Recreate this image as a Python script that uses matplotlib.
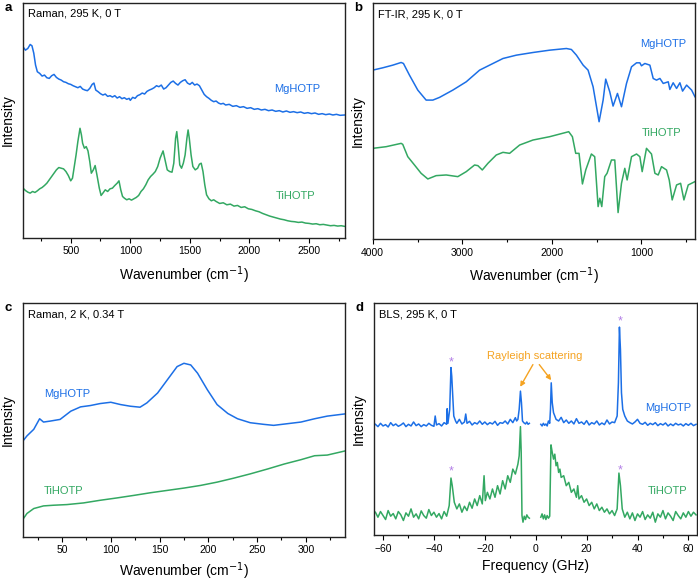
import matplotlib
matplotlib.use("Agg")
import matplotlib.pyplot as plt
from matplotlib.ticker import MultipleLocator, NullLocator

plt.rcParams["font.family"] = ["Liberation Sans", "DejaVu Sans"]

BLUE = "#1c6fe6"
GREEN = "#33a862"
PURPLE = "#b27fe6"
ORANGE = "#f5a321"

# ---- panel a: Raman 295 K (wavenumber, intensity in arb. units) ----
a_mg_x = [100, 120, 140, 160, 175, 190, 205, 220, 240, 260, 280, 300, 320, 340, 360, 380,
          400, 420, 440, 460, 480, 500, 520, 540, 560, 580, 600, 620, 640, 660, 680, 695,
          710, 730, 750, 770, 790, 810, 830, 850, 870, 890, 910, 930, 950, 970, 990, 1000,
          1020, 1040, 1060, 1080, 1100, 1120, 1140, 1160, 1180, 1200, 1220, 1240, 1260,
          1280, 1300, 1320, 1340, 1360, 1380, 1400, 1420, 1440, 1460, 1480, 1500, 1520,
          1540, 1560, 1580, 1600, 1620, 1640, 1660, 1680, 1700, 1720, 1740, 1760, 1780,
          1800, 1830, 1860, 1890, 1920, 1950, 1980, 2010, 2040, 2070, 2100, 2130, 2160,
          2190, 2220, 2250, 2280, 2310, 2340, 2370, 2400, 2430, 2460, 2490, 2520, 2550,
          2580, 2610, 2640, 2670, 2700, 2730, 2760, 2800]
a_mg_y = [575, 565, 570, 582, 578, 556, 520, 500, 495, 487, 490, 482, 480, 488, 492, 483,
          478, 475, 470, 468, 464, 462, 458, 455, 452, 456, 448, 445, 443, 450, 462, 466,
          445, 440, 434, 430, 433, 426, 428, 424, 428, 421, 425, 419, 422, 417, 420, 414,
          423, 420, 428, 431, 436, 433, 441, 445, 448, 452, 458, 455, 460,
          448, 452, 460, 468, 472, 465, 460, 468, 473, 476, 466, 462, 468,
          460, 463, 458, 445, 432, 425, 420, 414, 410, 412, 406, 403, 405,
          400, 402, 396, 398, 393, 395, 390, 392, 387, 389, 385, 387, 383,
          385, 381, 383, 379, 382, 378, 380, 377, 379, 375, 377, 374, 376,
          372, 374, 371, 373, 370, 372, 369, 370]
a_ti_x = [100, 120, 140, 160, 180, 200, 220, 240, 260, 280, 300, 320, 340, 360, 380, 400,
          420, 440, 460, 480, 500, 515, 530, 545, 560, 578, 590, 600, 615, 630, 645, 660,
          673, 690, 705, 720, 740, 755, 770, 790, 810, 830, 850, 870, 890, 905, 920, 935,
          950, 970, 990, 1010, 1030, 1050, 1070, 1090, 1110, 1130, 1150, 1170, 1190, 1210,
          1230, 1250, 1275, 1295, 1310, 1330, 1350, 1365, 1380, 1390, 1400, 1415, 1430,
          1445, 1460, 1475, 1485, 1495, 1510, 1525, 1545, 1565, 1580, 1595, 1610, 1625,
          1640, 1660, 1680, 1700, 1720, 1750, 1780, 1810, 1840, 1870, 1900, 1930, 1960,
          1990, 2020, 2050, 2080, 2110, 2140, 2170, 2200, 2230, 2260, 2290, 2320, 2350,
          2380, 2410, 2440, 2470, 2500, 2530, 2560, 2590, 2620, 2650, 2680, 2710, 2740,
          2770, 2800]
a_ti_y = [150, 143, 138, 135, 140, 137, 142, 148, 152, 158, 165, 175, 185, 195, 205, 212,
          210, 208, 200, 188, 172, 180, 215, 250, 290, 330, 310, 285, 270, 275, 262, 230,
          195, 205, 218, 190, 150, 128, 135, 145, 140, 148, 150, 158, 165, 172, 145, 125,
          120, 115, 118, 114, 118, 122, 128, 140, 148, 160, 175, 185, 192, 200,
          215, 240, 262, 230, 205, 200, 198, 225, 300, 320, 285, 220, 210,
          225, 250, 300, 325, 300, 250, 215, 205, 210, 222, 225, 200, 160,
          130, 118, 112, 115, 110, 104, 106, 100, 102, 96, 98, 92, 94,
          88, 86, 82, 79, 74, 70, 66, 63, 60, 57, 55, 52, 50,
          49, 47, 48, 45, 44, 42, 43, 40, 41, 39, 37, 38, 36,
          37, 35]

# ---- panel b: FT-IR ----
b_mg_x = [4000, 3888, 3776, 3683, 3657, 3590, 3497, 3404, 3329, 3255, 3106, 2956, 2807,
          2658, 2546, 2397, 2211, 2025, 1838, 1782, 1726, 1651, 1596, 1540, 1473, 1428,
          1399, 1354, 1317, 1268, 1223, 1167, 1111, 1055, 1018, 1000, 962, 906, 869,
          832, 794, 757, 701, 683, 646, 608, 571, 541, 496, 440, 403]
b_mg_y = [508, 515, 523, 531, 528, 493, 448, 418, 418, 426, 448, 473, 508,
          528, 543, 553, 561, 568, 573, 570, 553, 523, 508, 458, 353, 418,
          481, 443, 400, 438, 398, 468, 518, 530, 530, 521, 528, 523, 483,
          478, 483, 468, 473, 450, 470, 453, 470, 445, 463, 448, 428]
b_ti_x = [4000, 3850, 3683, 3665, 3609, 3534, 3460, 3385, 3292, 3180, 3050, 2956, 2863,
          2826, 2777, 2714, 2621, 2546, 2472, 2360, 2211, 2025, 1812, 1771, 1734, 1697,
          1659, 1622, 1559, 1522, 1484, 1465, 1443, 1410, 1384, 1335, 1298, 1261, 1223,
          1186, 1160, 1111, 1055, 1018, 992, 944, 888, 850, 813, 776, 720, 690, 657,
          608, 563, 526, 478, 403]
b_ti_y = [273, 278, 288, 285, 248, 223, 198, 181, 191, 193, 188, 203, 223,
          221, 208, 228, 253, 261, 258, 283, 298, 308, 323, 308, 258, 258,
          166, 208, 256, 248, 98, 123, 98, 188, 198, 238, 238, 80, 168,
          213, 178, 248, 256, 248, 203, 273, 256, 198, 193, 218, 208, 178, 118,
          163, 168, 118, 163, 173]

# ---- panel c: Raman 2 K, 0.34 T ----
c_mg_x = [10, 14, 21, 27, 31, 38, 48, 59, 69, 79, 89, 100, 110, 120, 130, 137, 148, 158,
          168, 175, 182, 189, 199, 209, 220, 230, 243, 257, 267, 281, 295, 309, 322, 341]
c_mg_y = [290, 305, 325, 357, 347, 350, 355, 380, 393, 397, 403, 407, 400, 395, 392, 405,
          435, 475, 515, 525, 520, 495, 445, 400, 373, 357, 345, 340, 337, 342, 347, 357,
          365, 372]
c_ti_x = [10, 14, 21, 31, 41, 55, 72, 89, 106, 124, 141, 158, 175, 192, 209, 226, 243,
          261, 278, 295, 309, 322, 341]
c_ti_y = [53, 70, 85, 93, 95, 97, 102, 110, 117, 125, 133, 140, 147, 155, 165, 177, 190,
          205, 220, 233, 245, 247, 260]

# ---- panel d: BLS (frequency in GHz), gap around the laser line ----
d_mg_lx = [-63, -62, -61, -60, -59, -58, -57, -56, -55, -54, -53, -52, -51, -50, -49, -48,
           -47, -46, -45, -44, -43, -42, -41, -40, -39.5, -39, -38, -37, -36, -35, -34.8,
           -34.5, -33.8, -33.3, -33, -32.6, -32.2, -31.5, -31, -30, -29, -28, -27.5, -27,
           -26, -25, -24, -23, -22, -21, -20, -19, -18, -17, -16, -15, -14, -13, -12, -11,
           -10, -9, -8, -7.5, -7, -6.5, -6, -5.6, -5.2, -4.7, -4, -3.5, -3, -2.5]
d_mg_ly = [335, 328, 338, 330, 334, 327, 340, 331, 336, 329, 333, 339, 328, 335, 330, 342,
           331, 336, 328, 334, 330, 338, 332, 329, 360, 333, 337, 330, 340, 335, 382,
           338, 380, 506, 480, 420, 360, 345, 338, 350, 336, 342, 366, 338,
           344, 333, 340, 336, 345, 335, 342, 334, 340, 336, 344, 332, 340, 338, 345, 336,
           350, 340, 355, 345, 350, 380, 435, 400, 345, 340, 336, 342, 335, 338]
d_mg_rx = [2, 2.5, 3, 3.5, 4, 4.5, 5, 5.5, 5.8, 6.1, 6.5, 7, 7.5, 8, 9, 10, 11, 12, 13, 14,
           15, 16, 17, 18, 19, 20, 21, 22, 23, 24, 25, 26, 27, 28, 29, 30, 31, 32, 32.5,
           32.9, 33.3, 33.7, 34.2, 35, 36, 37, 38, 39, 40, 41, 42, 43, 44, 45, 46, 47, 48,
           49, 50, 51, 52, 53, 54, 55, 56, 57, 58, 59, 60, 61, 62, 63]
d_mg_ry = [335, 330, 338, 332, 336, 330, 345, 338, 380, 460, 400, 370, 360, 350, 345, 356,
           340, 348, 338, 345, 336, 352, 338, 342, 335, 346, 333, 340, 336, 345, 333, 339,
           334, 348, 336, 342, 340, 360, 460, 628, 560, 430, 380, 360, 345, 340, 336, 342,
           350, 338, 335, 341, 332, 338, 334, 340, 331, 337, 333, 339, 330, 336, 331, 338,
           333, 336, 330, 337, 332, 338, 331, 335]
d_ti_lx = [-63, -62, -61, -60, -59, -58, -57, -56, -55, -54, -53, -52, -51, -50, -49, -48,
           -47, -46, -45, -44, -43, -42, -41, -40, -39, -38, -37, -36, -35, -34, -33.3,
           -32.8, -32, -31, -30, -29, -28, -27, -26, -25, -24, -23, -22, -21, -20.3, -19.8,
           -19, -18, -17, -16, -15, -14, -13, -12, -11, -10, -9, -8, -7, -6.5, -6, -5.7,
           -5.4, -5, -4.5, -4, -3.5, -3, -2.5]
d_ti_ly = [70, 55, 72, 60, 48, 75, 58, 66, 50, 72, 62, 45, 68, 58, 80, 55,
           65, 50, 74, 60, 52, 78, 60, 70, 55, 66, 50, 72, 58, 90, 173,
           150, 100, 80, 95, 70, 88, 75, 100, 82, 110, 90, 120, 95, 180, 105,
           130, 110, 140, 115, 150, 125, 165, 140, 180, 160, 200, 185, 215, 240, 328, 250,
           60, 40, 58, 48, 62, 55, 52]
d_ti_rx = [2, 2.5, 3, 3.5, 4, 4.5, 5, 5.5, 6, 6.5, 7, 7.5, 8, 8.5, 9, 9.5, 10, 11, 12, 13,
           14, 15, 16, 16.5, 17, 18, 19, 20, 21, 22, 23, 24, 25, 26, 27, 28, 29, 30, 31, 32,
           32.7, 33.3, 34, 35, 36, 37, 38, 39, 40, 41, 42, 43, 44, 45, 46, 47, 48, 49, 50,
           51, 52, 53, 54, 55, 56, 57, 58, 59, 60, 61, 62, 63]
d_ti_ry = [55, 65, 50, 62, 48, 60, 52, 58, 273, 250, 230, 245, 210, 220, 190, 200, 175,
           180, 150, 160, 130, 140, 115, 150, 110, 120, 100, 110, 90, 100, 80, 95, 75, 85,
           70, 80, 65, 75, 60, 80, 188, 150, 80, 55, 70, 50, 68, 45, 65, 55, 72, 48, 62,
           52, 70, 40, 65, 55, 75, 50, 68, 58, 45, 72, 60, 50, 68, 55, 72, 58, 70, 62]

fig = plt.figure(figsize=(6.98, 5.82), dpi=100)
ax_a = fig.add_axes([0.033, 0.591, 0.461, 0.404])
ax_b = fig.add_axes([0.534, 0.589, 0.462, 0.406])
ax_c = fig.add_axes([0.033, 0.078, 0.461, 0.401])
ax_d = fig.add_axes([0.536, 0.080, 0.463, 0.399])


def style(ax, title, letter, xlabel, xpad=6):
    ax.yaxis.set_major_locator(NullLocator())
    ax.tick_params(axis="x", which="major", direction="out", length=3.5, width=0.8,
                   labelsize=7.5, pad=2.5, top=False)
    ax.tick_params(axis="x", which="minor", direction="out", length=2, width=0.8, top=False)
    for s in ax.spines.values():
        s.set_linewidth(1.0)
        s.set_color("#222222")
    ax.set_ylabel("Intensity", fontsize=10, labelpad=6)
    ax.set_xlabel(xlabel, fontsize=10, labelpad=xpad)
    ax.text(0.016, 0.953, title, transform=ax.transAxes, ha="left", va="center", fontsize=8)
    ax.text(-0.034, 0.98, letter, transform=ax.transAxes, ha="right", va="center",
            fontsize=9.5, fontweight="bold")


wn_label = "Wavenumber (cm$^{-1}$)"
LW = 1.1

# a
ax_a.plot(a_mg_x, a_mg_y, color=BLUE, lw=LW)
ax_a.plot(a_ti_x, a_ti_y, color=GREEN, lw=LW)
ax_a.set_xlim(100, 2800)
ax_a.set_ylim(0, 707)
ax_a.xaxis.set_major_locator(MultipleLocator(500))
ax_a.xaxis.set_minor_locator(MultipleLocator(250))
ax_a.text(2400, 447, "MgHOTP", color=BLUE, ha="center", va="center", fontsize=8)
ax_a.text(2390, 125, "TiHOTP", color=GREEN, ha="center", va="center", fontsize=8)
style(ax_a, "Raman, 295 K, 0 T", "a", wn_label)

# b
ax_b.plot(b_mg_x, b_mg_y, color=BLUE, lw=LW)
ax_b.plot(b_ti_x, b_ti_y, color=GREEN, lw=LW)
ax_b.set_xlim(4000, 400)
ax_b.set_ylim(0, 710)
ax_b.xaxis.set_major_locator(MultipleLocator(1000))
ax_b.xaxis.set_minor_locator(MultipleLocator(500))
ax_b.text(757, 588, "MgHOTP", color=BLUE, ha="center", va="center", fontsize=8)
ax_b.text(776, 318, "TiHOTP", color=GREEN, ha="center", va="center", fontsize=8)
style(ax_b, "FT-IR, 295 K, 0 T", "b", wn_label)

# c
ax_c.plot(c_mg_x, c_mg_y, color=BLUE, lw=LW)
ax_c.plot(c_ti_x, c_ti_y, color=GREEN, lw=LW)
ax_c.set_xlim(10, 340)
ax_c.set_ylim(0, 707)
ax_c.xaxis.set_major_locator(MultipleLocator(50))
ax_c.xaxis.set_minor_locator(MultipleLocator(25))
ax_c.text(55, 433, "MgHOTP", color=BLUE, ha="center", va="center", fontsize=8)
ax_c.text(52, 138, "TiHOTP", color=GREEN, ha="center", va="center", fontsize=8)
style(ax_c, "Raman, 2 K, 0.34 T", "c", wn_label, xpad=4)

# d
ax_d.plot(d_mg_lx, d_mg_ly, color=BLUE, lw=LW)
ax_d.plot(d_mg_rx, d_mg_ry, color=BLUE, lw=LW)
ax_d.plot(d_ti_lx, d_ti_ly, color=GREEN, lw=LW)
ax_d.plot(d_ti_rx, d_ti_ry, color=GREEN, lw=LW)
ax_d.set_xlim(-63.5, 63.5)
ax_d.set_ylim(0, 700)
ax_d.xaxis.set_major_locator(MultipleLocator(20))
ax_d.xaxis.set_minor_locator(MultipleLocator(10))
for fx, fy in [(-33.3, 520), (33.0, 644), (-33.3, 194), (33.0, 197)]:
    ax_d.text(fx, fy, "*", color=PURPLE, ha="center", va="center", fontsize=9)
ax_d.text(-0.4, 541, "Rayleigh scattering", color=ORANGE, ha="center", va="center",
          fontsize=8)
arrow = dict(arrowstyle="-|>", color=ORANGE, lw=1.0, mutation_scale=7,
             shrinkA=0, shrinkB=0)
ax_d.annotate("", xy=(-6.1, 448), xytext=(-1.1, 515), arrowprops=arrow)
ax_d.annotate("", xy=(6.1, 468), xytext=(1.4, 515), arrowprops=arrow)
ax_d.text(52, 383, "MgHOTP", color=BLUE, ha="center", va="center", fontsize=8)
ax_d.text(52, 133, "TiHOTP", color=GREEN, ha="center", va="center", fontsize=8)
style(ax_d, "BLS, 295 K, 0 T", "d", "Frequency (GHz)", xpad=4)

fig.savefig("out.png", dpi=100)
